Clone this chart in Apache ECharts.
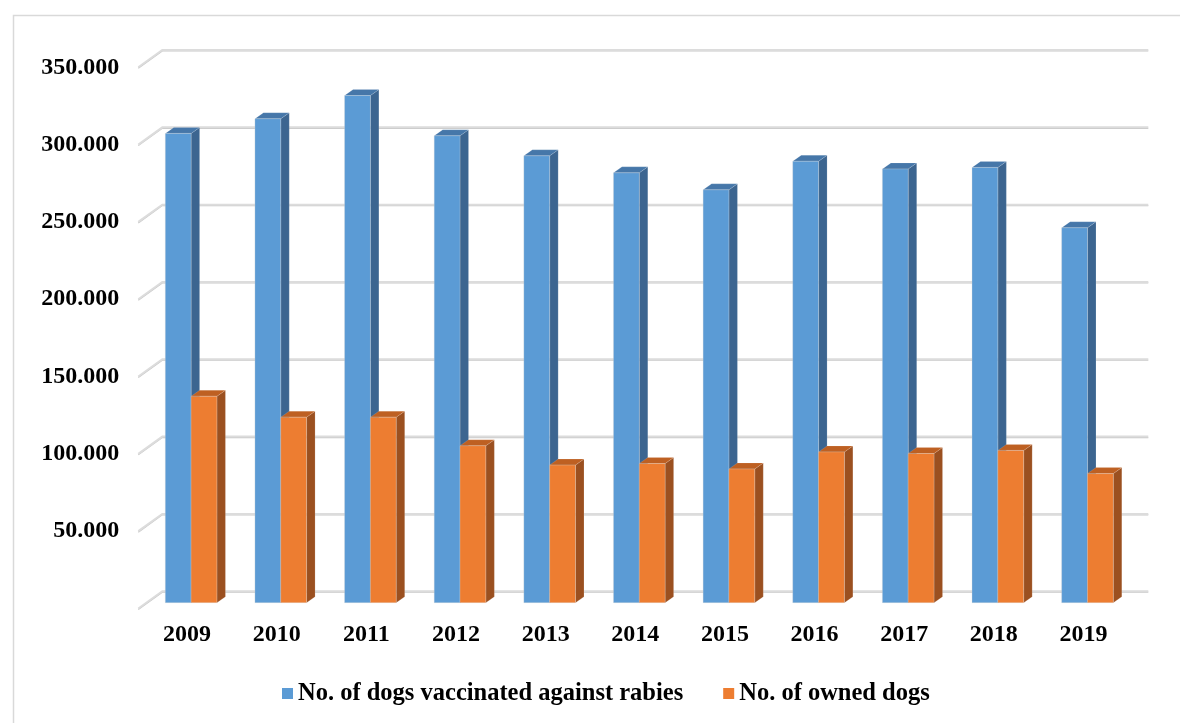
<!DOCTYPE html>
<html>
<head>
<meta charset="utf-8">
<script src="https://cdn.jsdelivr.net/npm/echarts@6/dist/echarts.min.js"></script>
<style>
html,body{margin:0;padding:0;background:#fff;}
#chart{width:1180px;height:723px;}
</style>
</head>
<body>
<div id="chart"></div>
<script>
const categories = ['2009','2010','2011','2012','2013','2014','2015','2016','2017','2018','2019'];
const vaccinated = [303500, 313000, 328000, 302000, 289000, 278000, 267000, 285500, 280500, 281500, 242500];
const owned = [133500, 120000, 120000, 101500, 89000, 90000, 86500, 97500, 96500, 98500, 83500];
const yTicks = [0, 50000, 100000, 150000, 200000, 250000, 300000, 350000];
const seriesNames = ['No. of dogs vaccinated against rabies', 'No. of owned dogs'];

const FONT = 'Liberation Serif, Times New Roman, serif';
const WALL = {dx: 24, dy: 17.3};          // floor depth (front edge -> back wall)
const BAR_FRONT = {dx: 8, dy: 5.8};       // bar front face depth
const BAR_DEPTH = {dx: 8.5, dy: 6};       // bar thickness
const BAR_W = 0.288;                      // fraction of band for each bar

const colors = [
  {front: '#5B9BD5', top: '#4677A9', side: '#3C6590'},
  {front: '#ED7D31', top: '#BE6022', side: '#9B5020'}
];

function fmt(v){
  if (v === 0) return '';
  return String(v).replace(/\B(?=(\d{3})+(?!\d))/g, '.');
}

function barRenderer(k){
  return function(params, api){
    const cat = api.value(0), val = api.value(1);
    const t = api.coord([cat, val]);
    const b = api.coord([cat, 0]);
    const band = api.size([1, 0])[0];
    const w = band * BAR_W;
    const x0 = t[0] - w + k * w + BAR_FRONT.dx;
    const yT = t[1] - BAR_FRONT.dy;
    const yB = b[1] - BAR_FRONT.dy;
    const c = colors[k];
    const ddx = BAR_DEPTH.dx, ddy = BAR_DEPTH.dy;
    return {
      type: 'group',
      children: [
        {type: 'polygon', shape: {points: [[x0 + w, yT], [x0 + w + ddx, yT - ddy], [x0 + w + ddx, yB - ddy], [x0 + w, yB]]},
          style: {fill: c.side, stroke: 'rgba(255,255,255,0.25)', lineWidth: 0.5}},
        {type: 'polygon', shape: {points: [[x0, yT], [x0 + w, yT], [x0 + w + ddx, yT - ddy], [x0 + ddx, yT - ddy]]},
          style: {fill: c.top, stroke: 'rgba(255,255,255,0.25)', lineWidth: 0.5}},
        {type: 'rect', shape: {x: x0, y: yT, width: w, height: yB - yT},
          style: {fill: c.front, stroke: 'rgba(210,210,210,0.6)', lineWidth: 0.5}}
      ]
    };
  };
}

function gridRenderer(params, api){
  const v = api.value(1);
  const p0 = api.coord([0, v]);
  const p1 = api.coord([categories.length - 1, v]);
  const band = api.size([1, 0])[0];
  const xL = p0[0] - band / 2;
  const xR = p1[0] + band / 2;
  const y = p0[1];
  const pts = [[xL, y], [xL + WALL.dx, y - WALL.dy], [xR + WALL.dx, y - WALL.dy]];
  return {
    type: 'group',
    children: [
      {type: 'polyline', shape: {points: pts.map(p => [p[0], p[1] + 1])}, style: {stroke: '#c8c8c8', lineWidth: 1.2, fill: null}},
      {type: 'polyline', shape: {points: pts}, style: {stroke: '#dcdcdc', lineWidth: 2, fill: null}}
    ]
  };
}

const chart = echarts.init(document.getElementById('chart'), null, {renderer: 'canvas'});
chart.setOption({
  animation: false,
  backgroundColor: '#fff',
  graphic: [{
    type: 'rect', left: 11, top: 13, shape: {width: 1300, height: 800},
    style: {fill: null, stroke: '#d9d9d9', lineWidth: 1.5}, silent: true, z: -1
  }],
  grid: {left: 138.3, right: 55.7, top: 67.3, bottom: 114.5, outerBoundsMode: 'none', containLabel: false},
  legend: {
    data: [
      {name: seriesNames[0], icon: 'rect', itemStyle: {color: colors[0].front}},
      {name: seriesNames[1], icon: 'rect', itemStyle: {color: colors[1].front}}
    ],
    left: 277, top: 676, itemWidth: 11, itemHeight: 11, itemGap: 40,
    textStyle: {fontFamily: FONT, fontWeight: 'bold', fontSize: 24.5, color: '#000'}
  },
  xAxis: {
    type: 'category', data: categories, boundaryGap: true,
    axisLine: {show: false}, axisTick: {show: false}, splitLine: {show: false},
    axisLabel: {fontFamily: FONT, fontWeight: 'bold', fontSize: 24, color: '#000', margin: 14, padding: [0, 0, 0, 8]}
  },
  yAxis: {
    type: 'value', min: 0, max: 350000, interval: 50000,
    axisLine: {show: false}, axisTick: {show: false}, splitLine: {show: false},
    axisLabel: {fontFamily: FONT, fontWeight: 'bold', fontSize: 24, color: '#000', margin: 19, formatter: fmt}
  },
  series: [
    {type: 'custom', name: '_grid', silent: true, z: 1, renderItem: gridRenderer,
      data: yTicks.map(v => [0, v]), encode: {x: 0, y: 1}, clip: false},
    {type: 'custom', name: seriesNames[0], z: 2, renderItem: barRenderer(0),
      itemStyle: {color: colors[0].front},
      data: vaccinated.map((v, i) => [i, v]), encode: {x: 0, y: 1}, clip: false},
    {type: 'custom', name: seriesNames[1], z: 3, renderItem: barRenderer(1),
      itemStyle: {color: colors[1].front},
      data: owned.map((v, i) => [i, v]), encode: {x: 0, y: 1}, clip: false}
  ]
});
</script>
</body>
</html>
